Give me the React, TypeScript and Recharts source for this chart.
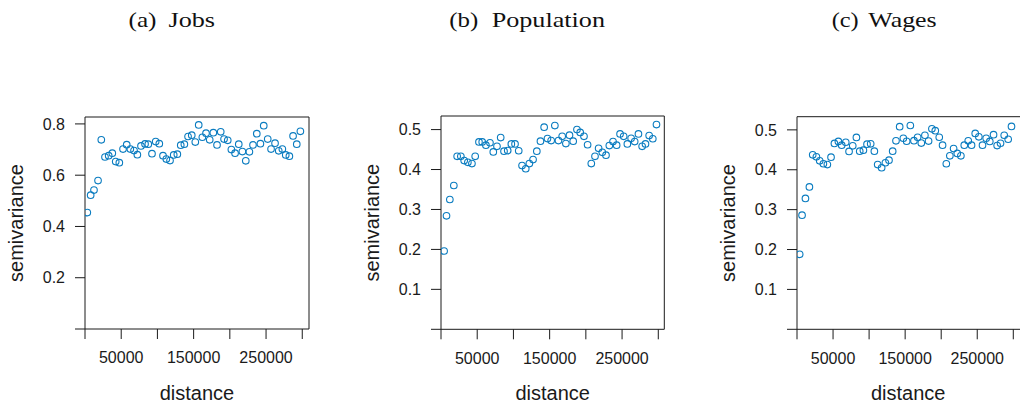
import React from 'react';
import { ScatterChart, Scatter, XAxis, YAxis } from 'recharts';

// ---- data ----
const jobsDist = [3200, 7800, 12400, 18000, 22500, 27600, 32700, 37700, 42400, 47400, 52500, 57600, 62600, 67700, 72300, 77300, 82900, 87400, 92500, 97600, 102600, 107700, 112300, 117400, 122500, 127500, 132200, 137200, 142300, 147400, 152300, 157000, 162000, 167100, 172200, 177200, 182300, 187400, 192000, 197100, 202100, 207200, 212300, 217300, 222000, 227000, 232000, 237200, 242200, 246800, 252300, 256900, 262400, 267500, 272500, 277200, 282200, 287300, 292400, 297400];
const jobsGamma = [0.454, 0.522, 0.542, 0.579, 0.738, 0.671, 0.676, 0.686, 0.653, 0.649, 0.702, 0.719, 0.702, 0.696, 0.680, 0.714, 0.722, 0.721, 0.684, 0.731, 0.723, 0.676, 0.663, 0.657, 0.679, 0.682, 0.717, 0.721, 0.751, 0.756, 0.729, 0.796, 0.748, 0.764, 0.738, 0.766, 0.718, 0.769, 0.741, 0.736, 0.700, 0.686, 0.721, 0.692, 0.656, 0.691, 0.718, 0.762, 0.723, 0.793, 0.741, 0.702, 0.725, 0.695, 0.702, 0.679, 0.674, 0.753, 0.721, 0.771];

const popDist = [4300, 7600, 12200, 17700, 22300, 27400, 32000, 37100, 42700, 47200, 52400, 56900, 62000, 67600, 72200, 77300, 82400, 87000, 92100, 97100, 102200, 107300, 111900, 117000, 122000, 127100, 132300, 137300, 142400, 147000, 152100, 157200, 162200, 167300, 172400, 177400, 182500, 187700, 192200, 197400, 202400, 207500, 212600, 217600, 222700, 227800, 232400, 237500, 242500, 247200, 252200, 257300, 262500, 267400, 272600, 277700, 282300, 287400, 292400, 297500];
const popGamma = [0.196, 0.284, 0.325, 0.360, 0.433, 0.433, 0.4225, 0.418, 0.415, 0.433, 0.469, 0.469, 0.461, 0.467, 0.444, 0.458, 0.480, 0.446, 0.4475, 0.464, 0.464, 0.447, 0.410, 0.402, 0.415, 0.425, 0.446, 0.471, 0.506, 0.4775, 0.4725, 0.510, 0.4725, 0.483, 0.465, 0.486, 0.471, 0.500, 0.493, 0.483, 0.462, 0.415, 0.433, 0.453, 0.443, 0.436, 0.460, 0.470, 0.461, 0.489, 0.483, 0.464, 0.478, 0.470, 0.489, 0.458, 0.464, 0.485, 0.477, 0.5125];

const wageDist = [3700, 7000, 11700, 17200, 21800, 26900, 31500, 36600, 42100, 47200, 51900, 57400, 62000, 67600, 72200, 77300, 82400, 87000, 92100, 97100, 102200, 107300, 111900, 117400, 122600, 127600, 132700, 137300, 142400, 147500, 152100, 157200, 162200, 167300, 172400, 177400, 182500, 187100, 191800, 197300, 201900, 207100, 212000, 217200, 222300, 227300, 232000, 237500, 242100, 247200, 252200, 257300, 262400, 267400, 272600, 277600, 282300, 287400, 292900, 297500];
const wageGamma = [0.188, 0.286, 0.328, 0.357, 0.4375, 0.4325, 0.4225, 0.415, 0.413, 0.4315, 0.466, 0.471, 0.4615, 0.469, 0.446, 0.460, 0.481, 0.4465, 0.449, 0.464, 0.465, 0.4465, 0.413, 0.405, 0.4175, 0.424, 0.4465, 0.4725, 0.508, 0.479, 0.4715, 0.511, 0.473, 0.4815, 0.467, 0.4865, 0.472, 0.5025, 0.498, 0.4815, 0.4615, 0.415, 0.435, 0.453, 0.441, 0.435, 0.4615, 0.4725, 0.4615, 0.491, 0.4825, 0.4615, 0.479, 0.471, 0.488, 0.4605, 0.4665, 0.4865, 0.4765, 0.5085];

const xTicks = [0, 50000, 100000, 150000, 200000, 250000, 300000];
const xLabelled = [50000, 150000, 250000];
const yTicksJobs = [0, 0.2, 0.4, 0.6, 0.8];
const yTicksOther = [0, 0.1, 0.2, 0.3, 0.4, 0.5];
const panelTags = ['(a)', '(b)', '(c)'];
const panelNames = ['Jobs', 'Population', 'Wages'];
const xTitle = 'distance';
const yTitle = 'semivariance';

// ---- styling ----
const H = 403;
const AX = '#1a1a1a';
const TXT = '#1a1a1a';
const PT = '#0a7cc0';
const SANS = '"Liberation Sans", Arial, Helvetica, sans-serif';
const SERIF = '"Liberation Serif", "DejaVu Serif", serif';

const toRows = (xs: number[], ys: number[]) => xs.map((x, i) => ({ x, y: ys[i] }));

const Ring = (props: any) => {
  if (props.cx == null || props.cy == null) return null;
  return <circle cx={props.cx} cy={props.cy} r={3.3} fill="none" stroke={PT} strokeWidth={1.1} />;
};

type PanelProps = {
  left: number; width: number;
  boxLeft: number; boxRight: number; boxTop: number; boxBottom: number;
  xMax: number; yMax: number; yTicks: number[]; rows: { x: number; y: number }[];
};

function Panel(p: PanelProps) {
  const leftW = p.boxLeft - p.left;
  const rightW = p.left + p.width - p.boxRight;
  const bottomH = H - p.boxBottom;
  const fmtY = (v: number) => (v === 0 ? '' : v.toFixed(1));
  const fmtX = (v: number) => (xLabelled.includes(v) ? String(v) : '');
  return (
    <div style={{ position: 'absolute', left: p.left, top: 0 }}>
      <ScatterChart width={p.width} height={H} margin={{ top: 0, right: 0, bottom: 0, left: 0 }}>
        <XAxis xAxisId="b" dataKey="x" type="number" orientation="bottom" domain={[0, p.xMax]} allowDataOverflow
          ticks={xTicks} interval={0} height={bottomH} tickSize={10} tickMargin={13} stroke={AX}
          tick={{ fontSize: 16, fill: TXT, fontFamily: SANS }} tickFormatter={fmtX} />
        <XAxis xAxisId="t" dataKey="x" type="number" orientation="top" domain={[0, p.xMax]} allowDataOverflow
          ticks={xTicks} interval={0} height={p.boxTop} tickSize={10} stroke={AX} tick={false} />
        <YAxis yAxisId="l" dataKey="y" type="number" orientation="left" domain={[0, p.yMax]} allowDataOverflow
          ticks={p.yTicks} interval={0} width={leftW} tickSize={10} tickMargin={10} stroke={AX}
          tick={{ fontSize: 16, fill: TXT, fontFamily: SANS }} tickFormatter={fmtY} />
        <YAxis yAxisId="r" dataKey="y" type="number" orientation="right" domain={[0, p.yMax]} allowDataOverflow
          ticks={p.yTicks} interval={0} width={rightW} tickSize={10} stroke={AX} tick={false} />
        <Scatter data={p.rows} xAxisId="b" yAxisId="l" shape={Ring} isAnimationActive={false} />
      </ScatterChart>
    </div>
  );
}

const boxes = [
  { left: 0, width: 340, boxLeft: 85, boxRight: 309, boxTop: 117, boxBottom: 329, xMax: 309300, yMax: 0.827, yTicks: yTicksJobs, rows: toRows(jobsDist, jobsGamma) },
  { left: 356, width: 340, boxLeft: 441, boxRight: 664.3, boxTop: 116, boxBottom: 329.3, xMax: 308300, yMax: 0.534, yTicks: yTicksOther, rows: toRows(popDist, popGamma) },
  { left: 712, width: 340, boxLeft: 797, boxRight: 1020.5, boxTop: 116.7, boxBottom: 329.3, xMax: 310000, yMax: 0.533, yTicks: yTicksOther, rows: toRows(wageDist, wageGamma) },
];

// title text spans [tagStart, tagWidth, nameStart, nameWidth]
const titleSpans = [
  [128.5, 28, 168.5, 46.5],
  [449.3, 29, 491.7, 113.3],
  [831.7, 27, 868.3, 68.4],
];

export default function App() {
  return (
    <div style={{ position: 'absolute', left: 0, top: 0, width: 1020, height: H, overflow: 'hidden', background: '#fff', fontFamily: SANS }}>
      {boxes.map((b, i) => <Panel key={i} {...b} />)}
      <svg width={1020} height={H} style={{ position: 'absolute', left: 0, top: 0, pointerEvents: 'none' }}>
        {boxes.map((b, i) => {
          const s = titleSpans[i];
          const cx = (b.boxLeft + Math.min(b.boxRight, 1019.5)) / 2;
          const cy = (b.boxTop + b.boxBottom) / 2;
          return (
            <g key={i}>
              <text x={s[0]} y={26.5} fontFamily={SERIF} fontSize={22} fill="#111" textLength={s[1]} lengthAdjust="spacingAndGlyphs">{panelTags[i]}</text>
              <text x={s[2]} y={26.5} fontFamily={SERIF} fontSize={22} fill="#111" textLength={s[3]} lengthAdjust="spacingAndGlyphs">{panelNames[i]}</text>
              <text x={(b.boxLeft + (i === 2 ? 1019.5 : b.boxRight)) / 2} y={400} textAnchor="middle" fontFamily={SANS} fontSize={20} fill={TXT}>{xTitle}</text>
              <text x={b.boxLeft - 61.7} y={cy} textAnchor="middle" fontFamily={SANS} fontSize={20} fill={TXT} transform={`rotate(-90 ${b.boxLeft - 61.7} ${cy})`}>{yTitle}</text>
            </g>
          );
        })}
      </svg>
    </div>
  );
}
